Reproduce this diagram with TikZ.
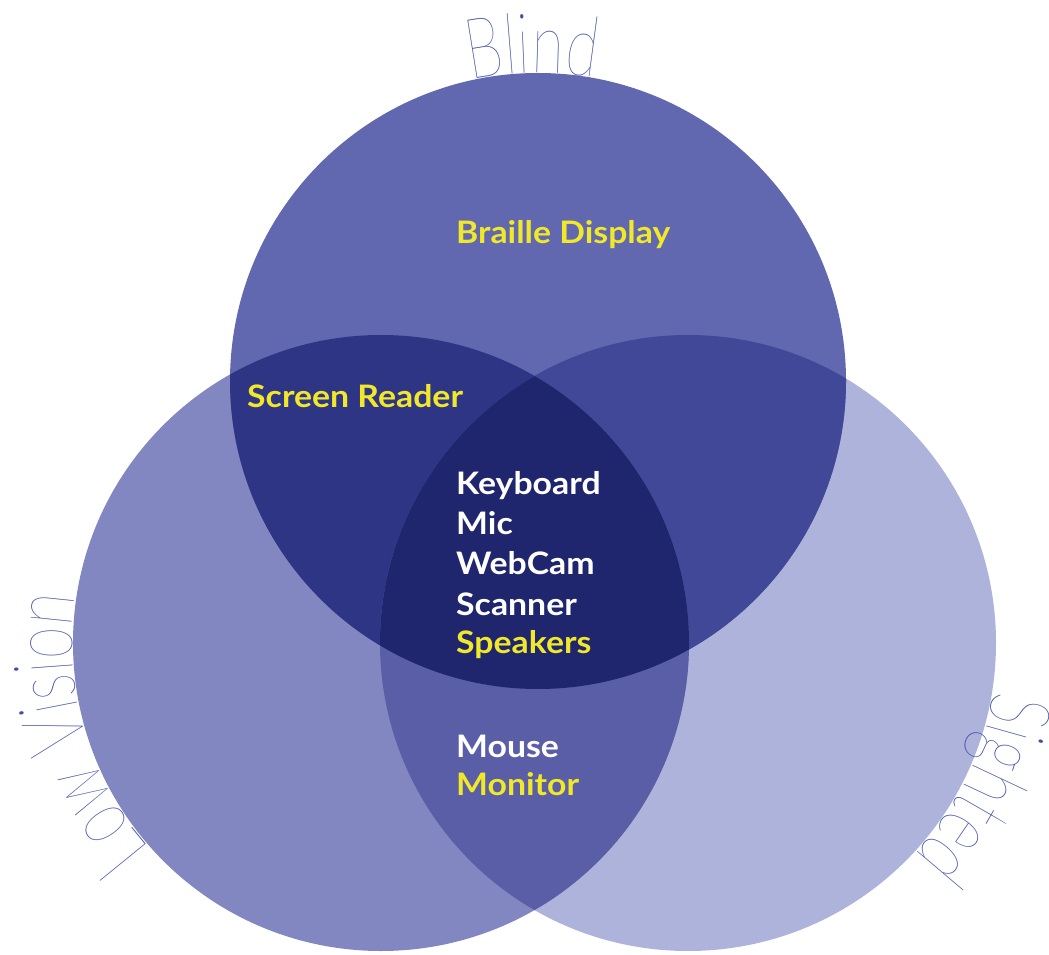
\documentclass[tikz,border=0pt]{standalone}
\usepackage{fontspec}
\usetikzlibrary{decorations.text}
\newfontfamily\labfont[FakeStretch=1.09]{Lato}
\newfontfamily\thinf[FakeStretch=0.7]{Lato Thin}
\definecolor{cB}{RGB}{97,104,176}
\definecolor{cL}{RGB}{131,135,193}
\definecolor{cS}{RGB}{173,179,218}
\definecolor{cBL}{RGB}{47,53,133}
\definecolor{cBS}{RGB}{64,72,151}
\definecolor{cLS}{RGB}{89,94,166}
\definecolor{cBLS}{RGB}{32,38,110}
\definecolor{ylw}{RGB}{240,232,40}
\definecolor{ttl}{RGB}{63,79,168}
\tikzset{
  lab/.style={anchor=base west, inner sep=0pt, font=\labfont\bfseries\fontsize{31}{39}\selectfont},
  ylab/.style={lab, text=ylw},
  wlab/.style={lab, text=white}
}
\begin{document}
\begin{tikzpicture}[x=1pt,y=1pt]
\useasboundingbox (0,0) rectangle (1049,954);
\coordinate (B) at (538,573);
\coordinate (L) at (381,311);
\coordinate (S) at (688,311);
\def\R{308}
% single circles
\fill[cS] (S) circle (\R);
\fill[cL] (L) circle (\R);
\fill[cB] (B) circle (\R);
% pairwise overlaps
\begin{scope}
  \clip (B) circle (\R);
  \fill[cBL] (L) circle (\R);
\end{scope}
\begin{scope}
  \clip (B) circle (\R);
  \fill[cBS] (S) circle (\R);
\end{scope}
\begin{scope}
  \clip (L) circle (\R);
  \fill[cLS] (S) circle (\R);
\end{scope}
\begin{scope}
  \clip (B) circle (\R);
  \clip (L) circle (\R);
  \fill[cBLS] (S) circle (\R);
\end{scope}
% circle titles
\path[decorate, decoration={text along path, text align=center,
  text={|\thinf\fontsize{84}{84}\selectfont\color{ttl}|Blind}}]
  (B) ++(131:308) arc[start angle=131, end angle=51, radius=308];
\path[decorate, decoration={text along path, text align=center,
  text={|\thinf\fontsize{84}{84}\selectfont\color{ttl}|Low Vision}}]
  (L) ++(239:309) arc[start angle=239, end angle=154, radius=309];
\path[decorate, decoration={text along path, text align=center,
  text={|\thinf\fontsize{84}{84}\selectfont\color{ttl}|Sighted}}]
  (S) ++(14:310) arc[start angle=14, end angle=-66, radius=310];
% labels
\node[ylab] (braille) at (456,710) {Braille Display};
\node[ylab] (reader) at (247,546) {Screen Reader};
\node[wlab] (kbd) at (456,459) {Keyboard};
\node[wlab] (mic) at (456,419) {Mic};
\node[wlab] (cam) at (456,379) {WebCam};
\node[wlab] (scan) at (456,339) {Scanner};
\node[ylab] (spk) at (456,301) {Speakers};
\node[wlab] (mouse) at (456,197) {Mouse};
\node[ylab] (mon) at (456,159) {Monitor};
\end{tikzpicture}
\end{document}
